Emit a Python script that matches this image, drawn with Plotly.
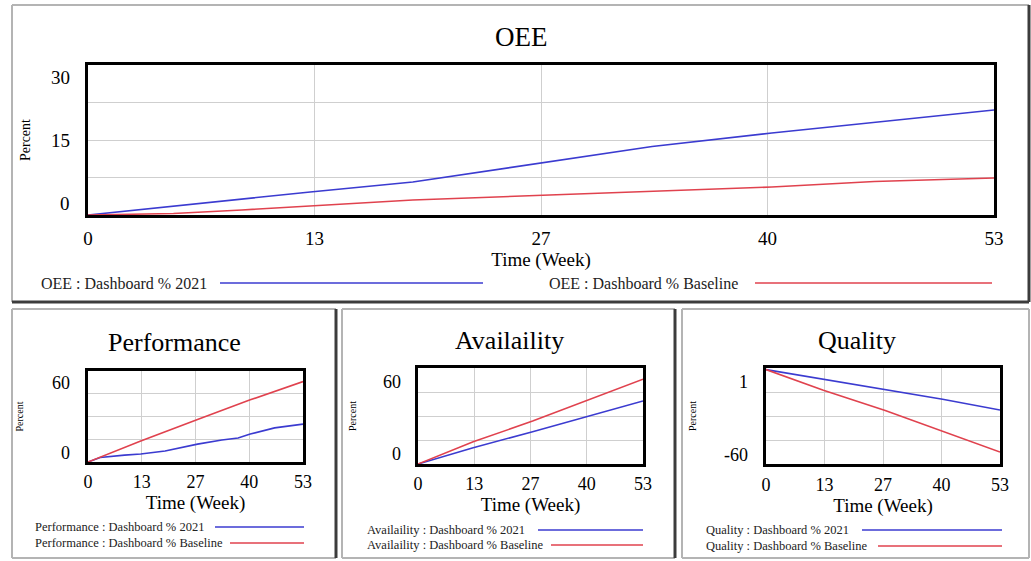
import plotly.graph_objects as go

# ---------------- data ----------------
weeks_oee = [0, 5, 9, 13, 19, 27, 33, 40, 46, 53]
oee_2021 = [0, 1.8, 3.2, 4.6, 6.6, 10.6, 13.7, 16.4, 18.5, 21.0]
oee_base = [0, 0.3, 1.0, 1.8, 3.0, 4.0, 4.7, 5.6, 6.7, 7.4]

weeks_perf = [0, 3, 9, 13, 19, 27, 33, 37, 40, 46, 53]
perf_2021 = [0, 3.0, 4.5, 5.3, 7.3, 11.8, 14.5, 15.8, 18.4, 22.5, 25.0]
weeks_small = [0, 13, 27, 40, 53]
perf_base = [0, 13.8, 28.0, 41.0, 53.0]

avail_2021 = [0, 10.2, 20.2, 29.6, 39.4]
avail_base = [0, 13.9, 26.8, 40.0, 53.0]

qual_2021 = [0, -6.0, -12.6, -18.9, -25.7]
qual_base = [0, -13.2, -26.0, -39.0, -52.4]

x_tickvals = [0, 13.25, 26.5, 39.75, 53]
x_ticktext = ["0", "13", "27", "40", "53"]

W, H = 1031, 561
BLUE = "#3b3bd0"
RED = "#e0424e"
GRID = "#cfcfcf"
FONT = "Liberation Serif"


def xp(x):
    return x / W


def yp(y):
    return 1 - y / H


fig = go.Figure()

panels = [
    dict(key="", title="OEE", box=(88, 65, 994, 215), yr=[0, 30],
         ygrid=[0, 7.5, 15, 22.5, 30], ylabels=[(30, -13), (15, 0), (0, 12)], lab_x=72,
         x_series=[(weeks_oee, oee_2021, BLUE), (weeks_oee, oee_base, RED)],
         tfs=19, titlefs=27, title_pos=(521, 37), pct_stand=52, pct_fs=14,
         xt_stand=2, tl_stand=4),
    dict(key="2", title="Performance", box=(88, 371, 303, 462), yr=[0, 60],
         ygrid=[0, 15, 30, 45, 60], ylabels=[(60, -12), (0, 9)], lab_x=72,
         x_series=[(weeks_perf, perf_2021, BLUE), (weeks_small, perf_base, RED)],
         tfs=18, titlefs=26, title_pos=(174, 342), pct_stand=60, pct_fs=10,
         xt_stand=0, tl_stand=1),
    dict(key="3", title="Availaility", box=(418, 368, 643, 464), yr=[0, 60],
         ygrid=[0, 15, 30, 45, 60], ylabels=[(60, -14), (0, 10)], lab_x=403,
         x_series=[(weeks_small, avail_2021, BLUE), (weeks_small, avail_base, RED)],
         tfs=18, titlefs=26, title_pos=(509, 340), pct_stand=57, pct_fs=10,
         xt_stand=0, tl_stand=1),
    dict(key="4", title="Quality", box=(766, 368, 1000, 464), yr=[-60, 1],
         ygrid=[-60, -44.75, -29.5, -14.25, 1], ylabels=[(1, -14), (-60, 9)], lab_x=750,
         x_series=[(weeks_small, qual_2021, BLUE), (weeks_small, qual_base, RED)],
         tfs=18, titlefs=26, title_pos=(857, 340), pct_stand=65, pct_fs=10,
         xt_stand=3, tl_stand=2),
]

annotations = []
shapes = []

for p in panels:
    k = p["key"]
    xa = "x" + k
    ya = "y" + k
    x0, y0, x1, y1 = p["box"]
    for xs, ys, col in p["x_series"]:
        fig.add_trace(go.Scatter(x=xs, y=ys, mode="lines", xaxis=xa, yaxis=ya,
                                 line=dict(color=col, width=1.6), showlegend=False,
                                 hoverinfo="skip"))
    axis_common = dict(showline=True, linecolor="black", linewidth=3, mirror=True,
                       zeroline=False, showgrid=True, gridcolor=GRID, gridwidth=1)
    fig.layout["xaxis" + k] = dict(
        domain=[xp(x0), xp(x1)], range=[0, 53], anchor=ya,
        tickmode="array", tickvals=x_tickvals, ticktext=x_ticktext,
        ticks="", tickfont=dict(family=FONT, size=p["tfs"], color="black"),
        ticklabelstandoff=p["tl_stand"],
        title=dict(text="Time (Week)", font=dict(family=FONT, size=19, color="black"),
                   standoff=p["xt_stand"]),
        automargin=False, **axis_common)
    fig.layout["yaxis" + k] = dict(
        domain=[yp(y1), yp(y0)], range=p["yr"], anchor=xa,
        tickmode="array", tickvals=p["ygrid"], showticklabels=False, ticks="",
        title=dict(text="Percent", font=dict(family=FONT, size=p["pct_fs"], color="black"),
                   standoff=p["pct_stand"]),
        automargin=False, **axis_common)
    for val, sh in p["ylabels"]:
        annotations.append(dict(text=str(val), x=xp(p["lab_x"]), xref="paper", xanchor="right",
                                y=val, yref=ya, yanchor="middle", yshift=sh, showarrow=False,
                                font=dict(family=FONT, size=p["tfs"], color="black")))
    tx, ty = p["title_pos"]
    annotations.append(dict(text=p["title"], x=xp(tx), y=yp(ty), xref="paper", yref="paper",
                            xanchor="center", yanchor="middle", showarrow=False,
                            font=dict(family=FONT, size=p["titlefs"], color="black")))

legend_items = [
    ("OEE : Dashboard % 2021", 39, 283, 220, 483, BLUE, 16),
    ("OEE : Dashboard % Baseline", 547, 283, 755, 992, RED, 16),
    ("Performance : Dashboard % 2021", 33, 527, 215, 304, BLUE, 12.5),
    ("Performance : Dashboard % Baseline", 33, 543, 230, 304, RED, 12.5),
    ("Availaility : Dashboard % 2021", 365, 530, 538, 643, BLUE, 12.5),
    ("Availaility : Dashboard % Baseline", 365, 545, 551, 643, RED, 12.5),
    ("Quality : Dashboard % 2021", 704, 530, 862, 1002, BLUE, 12.5),
    ("Quality : Dashboard % Baseline", 704, 546, 878, 1002, RED, 12.5),
]
for txt, tx, ty, lx0, lx1, col, fs in legend_items:
    annotations.append(dict(text=txt, x=xp(tx), y=yp(ty), xref="paper", yref="paper",
                            xanchor="left", yanchor="middle", showarrow=False,
                            font=dict(family=FONT, size=fs, color="#222222")))
    shapes.append(dict(type="line", xref="paper", yref="paper", x0=xp(lx0), x1=xp(lx1),
                       y0=yp(ty), y1=yp(ty), line=dict(color=col, width=1.4)))

LG = "#b4b4b4"
DK = "#3c3c3c"


def seg(xa0, ya0, xa1, ya1, col, w):
    shapes.append(dict(type="line", xref="paper", yref="paper", x0=xp(xa0), y0=yp(ya0),
                       x1=xp(xa1), y1=yp(ya1), line=dict(color=col, width=w)))


seg(12, 5, 1029, 5, LG, 2)
seg(12, 5, 12, 302, LG, 2)
seg(1029, 5, 1029, 302, DK, 3)
seg(12, 302, 1029, 302, DK, 3)
for left, right, rcol in [(12, 336, DK), (342, 675, DK), (682, 1029, LG)]:
    seg(left, 309, right, 309, LG, 2)
    seg(left, 309, left, 558, LG, 2)
    seg(left, 558, right, 558, LG, 2)
    seg(right, 309, right, 558, rcol, 3 if rcol == DK else 2)

fig.update_layout(width=W, height=H, margin=dict(l=0, r=0, t=0, b=0),
                  paper_bgcolor="white", plot_bgcolor="white",
                  annotations=annotations, shapes=shapes, showlegend=False,
                  hovermode=False,
                  font=dict(family=FONT, color="black"))

fig.write_html("out.html", config={"displayModeBar": False},
               post_script="document.body.style.margin='0';document.body.style.padding='0';"
                           "document.documentElement.style.overflow='hidden';")
